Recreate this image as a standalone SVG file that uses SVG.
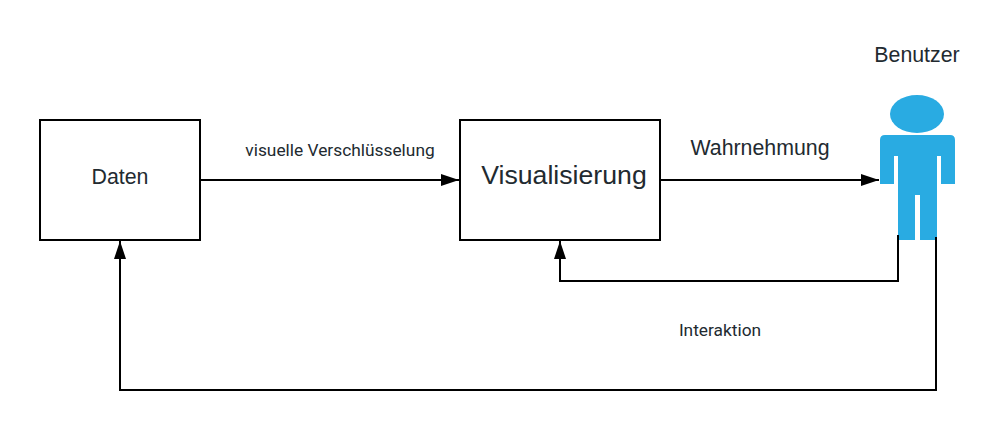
<svg xmlns="http://www.w3.org/2000/svg" width="1005" height="430" viewBox="0 0 1005 430">
<style>
.box{fill:#fff;stroke:#000;stroke-width:2}
.con{fill:none;stroke:#000;stroke-width:2;marker-end:url(#arrow)}
.t{fill:#222a30;font-family:"Liberation Sans",Arial,sans-serif}
.r{fill:#222a30;font-family:Roboto,sans-serif}
</style>
<defs>
<marker id="arrow" markerUnits="userSpaceOnUse" markerWidth="20" markerHeight="14" refX="18" refY="6" orient="auto" viewBox="0 0 20 12">
<path d="M0 0L18 6L0 12Z" fill="#000"/>
</marker>
</defs>
<rect width="1005" height="430" fill="#fff"/>
<g id="daten">
<rect class="box" x="40" y="120" width="160" height="120"/>
<text class="t" x="120" y="184" font-size="21.33" text-anchor="middle">Daten</text>
</g>
<g id="visualisierung">
<rect class="box" x="460" y="120" width="200" height="120"/>
<text class="t" x="564" y="184" font-size="26.67" text-anchor="middle">Visualisierung</text>
</g>
<g id="benutzer">
<text class="t" x="917" y="62" font-size="21.33" text-anchor="middle">Benutzer</text>
<ellipse cx="917" cy="114" rx="27" ry="19" fill="#29abe2"/>
<path d="M885 135H950Q955 135 955 140V184H941V156H937V240H920V195H915V240H898V156H894V184H880V140Q880 135 885 135Z" fill="#29abe2"/>
</g>
<g id="connectors">
<path class="con" d="M200 180H459"/>
<path class="con" d="M660 180H879"/>
<path class="con" d="M898 235V281H560V241"/>
<path class="con" d="M936 237V390H120V241"/>
</g>
<g id="labels">
<text class="r" x="340" y="156" font-size="17.33" text-anchor="middle">visuelle Verschlüsselung</text>
<text class="t" x="760" y="155" font-size="21.33" text-anchor="middle">Wahrnehmung</text>
<text class="r" x="720" y="336" font-size="17.33" text-anchor="middle">Interaktion</text>
</g>
</svg>
